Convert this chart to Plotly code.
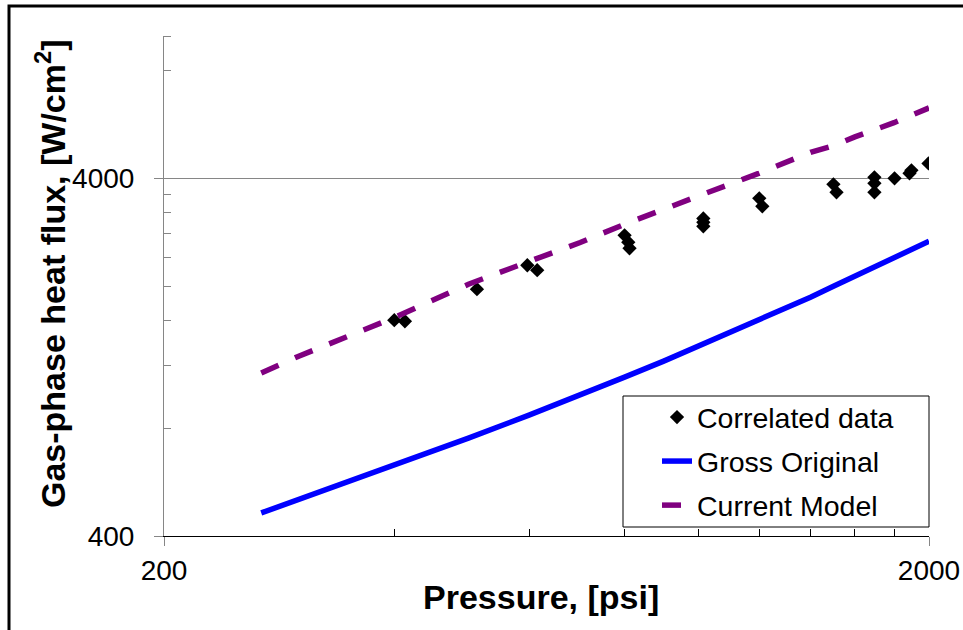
import math
import plotly.graph_objects as go

# Measured gas-phase heat flux versus chamber pressure
data_p = [400, 413, 513, 597, 615, 800, 809, 812, 1014, 1014, 1014,
          1200, 1211, 1500, 1514, 1697, 1697, 1697, 1803, 1886, 1897, 1997]
data_q = [1605, 1594, 1959, 2286, 2214, 2772, 2651, 2550, 3091, 3014, 2937,
          3517, 3340, 3848, 3656, 4026, 3873, 3656, 4000, 4131, 4211, 4404]

# Model curves evaluated on a common pressure grid
model_p = [268, 300, 400, 500, 600, 700, 800, 900, 1000, 1200, 1400, 1500, 1600, 1800, 2000]
gross_q = [464, 506, 632, 751, 871, 990, 1112, 1233, 1358, 1605, 1861, 1997, 2130, 2391, 2667]
current_q = [1142, 1273, 1632, 2023, 2342, 2647, 2976, 3292, 3572, 4136, 4729, 4932, 5224, 5723, 6295]

x_major = [200, 2000]
x_minor = [400, 600, 800, 1000, 1200, 1400, 1600, 1800]
y_major = [400, 4000]
y_minor = [800, 1200, 1600, 2000, 2400, 2800, 3200, 3600, 8000, 10000]

FONT = "Liberation Sans, Arial, sans-serif"
GRAY = "#868686"

W, H = 963, 630
L, R, T, B = 164, 34, 36, 94
pw, ph = W - L - R, H - T - B


def px(x):
    return (x - L) / pw


def py(y):
    return (H - B - y) / ph


fig = go.Figure()

fig.add_trace(go.Scatter(
    x=data_p, y=data_q, mode="markers", name="Correlated data",
    legendgroup="a",
    marker=dict(symbol="diamond", size=11, color="black"),
))
fig.add_trace(go.Scatter(
    x=model_p, y=gross_q, mode="lines", name="Gross Original",
    legendgroup="b",
    line=dict(color="#0000FF", width=5.5),
))
fig.add_trace(go.Scatter(
    x=model_p, y=current_q, mode="lines", name="Current Model",
    legendgroup="c",
    line=dict(color="#800080", width=5.5, dash="19px,18px"),
))

fig.update_layout(
    width=W, height=H, autosize=False,
    margin=dict(l=L, r=R, t=T, b=B, pad=0, autoexpand=False),
    paper_bgcolor="white", plot_bgcolor="white",
    font=dict(family=FONT, color="black", size=27),
    showlegend=True,
    legend=dict(
        x=px(657), xanchor="left", y=py(392), yanchor="top",
        bgcolor="rgba(0,0,0,0)", borderwidth=0,
        font=dict(family=FONT, size=28.5, color="black"),
        tracegroupgap=4, traceorder="grouped",
    ),
    xaxis=dict(
        type="log", range=[math.log10(200), math.log10(2000)],
        tickmode="array", tickvals=x_major, ticktext=[str(v) for v in x_major],
        showline=True, linecolor="black", linewidth=1,
        ticks="outside", ticklen=9, tickcolor=GRAY, tickwidth=1,
        showgrid=True, gridcolor=GRAY, gridwidth=1,
        minor=dict(tickmode="array", tickvals=x_minor, ticks="inside",
                   ticklen=7, tickcolor="black", tickwidth=1, showgrid=False),
        tickfont=dict(family=FONT, size=28, color="black"),
        ticklabelstandoff=0, automargin=False,
        zeroline=False, fixedrange=True,
    ),
    yaxis=dict(
        type="log", range=[math.log10(400), 4],
        tickmode="array", tickvals=y_major, ticktext=[str(v) for v in y_major],
        showline=True, linecolor=GRAY, linewidth=1,
        ticks="outside", ticklen=9, tickcolor=GRAY, tickwidth=1,
        showgrid=True, gridcolor=GRAY, gridwidth=1,
        minor=dict(tickmode="array", tickvals=y_minor, ticks="inside",
                   ticklen=7, tickcolor=GRAY, tickwidth=1, showgrid=False),
        tickfont=dict(family=FONT, size=28, color="black"),
        ticklabelstandoff=14, automargin=False,
        zeroline=False, fixedrange=True,
    ),
    shapes=[
        # legend frame
        dict(type="rect", xref="paper", yref="paper",
             x0=px(623), x1=px(929), y0=py(527), y1=py(396),
             line=dict(color="black", width=1), fillcolor="white", layer="above"),
        # outer chart frame
        dict(type="path", xref="paper", yref="paper",
             path=f"M {px(9)},{py(700)} L {px(9)},{py(6)} L {px(1010)},{py(6)}",
             line=dict(color="black", width=3)),
    ],
    annotations=[
        dict(text="<b>Pressure, [psi]</b>", xref="paper", yref="paper",
             x=px(541), y=py(597), xanchor="center", yanchor="middle",
             showarrow=False, font=dict(family=FONT, size=34, color="black")),
        dict(text="<b>Gas-phase heat flux, [W/cm<sup>2</sup>]</b>", xref="paper", yref="paper",
             x=px(50), y=py(274), xanchor="center", yanchor="middle", textangle=-90,
             showarrow=False, font=dict(family=FONT, size=34, color="black")),
    ],
)

fig.write_html("out.html")
